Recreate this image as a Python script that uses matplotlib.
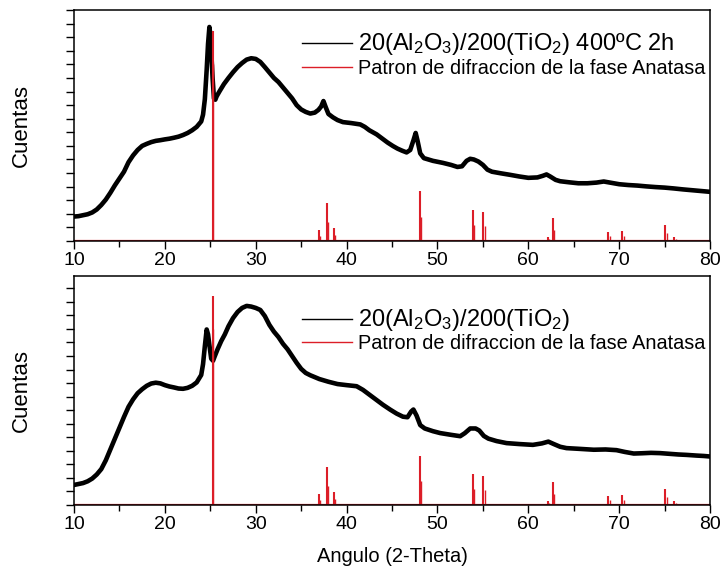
import matplotlib
matplotlib.use("Agg")
import matplotlib.pyplot as plt
from matplotlib.lines import Line2D
from matplotlib.ticker import MultipleLocator, NullFormatter

plt.rcParams.update({"font.family": ["Liberation Sans", "DejaVu Sans"],
                     "mathtext.fontset": "custom", "mathtext.rm": "Liberation Sans",
                     "mathtext.it": "Liberation Sans", "axes.linewidth": 1.1})

# ---- data (counts in arbitrary units) ----
ang_400 = [10.0, 10.5, 11.0, 11.5, 12.0, 12.5, 13.0, 13.5, 14.0, 14.5, 15.0, 15.5, 16.0, 16.5,
           17.0, 17.5, 18.0, 18.5, 19.0, 19.5, 20.0, 20.5, 21.0, 21.5, 22.0, 22.5, 23.0, 23.5,
           24.0, 24.2, 24.4, 24.6, 24.75, 24.9, 25.0, 25.1, 25.25, 25.4, 25.55, 25.7, 26.0, 26.5,
           27.0, 27.5, 28.0, 28.5, 29.0, 29.5, 30.0, 30.5, 31.0, 31.5, 32.0, 32.5, 33.0, 33.5,
           34.0, 34.5, 35.0, 35.5, 36.0, 36.5, 36.9, 37.2, 37.45, 37.7, 38.0, 38.5, 39.0, 39.6,
           40.5, 41.5, 42.0, 42.5, 43.3, 44.0, 44.5, 45.1, 45.6, 46.1, 46.6, 47.0, 47.35, 47.6,
           47.8, 48.1, 48.5, 49.0, 49.5, 50.0, 50.6, 51.5, 52.2, 52.7, 53.2, 53.6, 54.0, 54.5,
           55.0, 55.5, 56.0, 57.0, 58.0, 59.0, 60.0, 61.0, 61.6, 62.0, 62.4, 63.0, 63.5, 64.5,
           65.5, 66.5, 67.5, 68.3, 69.0, 70.0, 71.0, 72.0, 73.0, 74.0, 75.0, 76.0, 77.0, 78.0,
           79.0, 80.0]
cts_400 = [180, 183, 190, 197, 210, 232, 265, 305, 355, 410, 460, 510, 580, 630,
           670, 700, 715, 728, 737, 742, 748, 753, 760, 768, 780, 795, 815, 840,
           880, 930, 1044, 1260, 1450, 1575, 1520, 1400, 1200, 1050, 1040, 1065, 1100, 1155,
           1200, 1242, 1280, 1310, 1335, 1345, 1340, 1318, 1280, 1240, 1200, 1170, 1130, 1090,
           1050, 1000, 968, 950, 938, 945, 965, 990, 1030, 985, 935, 910, 890, 875,
           868, 858, 840, 815, 785, 750, 725, 699, 680, 665, 652, 670, 740, 795,
           740, 645, 610, 600, 590, 583, 575, 560, 545, 550, 590, 605, 600, 585,
           560, 525, 510, 498, 487, 475, 465, 468, 480, 490, 475, 450, 440, 432,
           425, 425, 430, 438, 430, 418, 412, 408, 402, 397, 393, 387, 380, 374,
           368, 362]

ang_raw = [10.0, 10.5, 11.0, 11.5, 12.0, 12.5, 13.0, 13.5, 14.0, 14.5, 15.0, 15.5, 16.0, 16.5,
           17.0, 17.5, 18.0, 18.5, 19.0, 19.5, 20.0, 20.5, 21.0, 21.5, 22.0, 22.5, 23.0, 23.5,
           24.0, 24.2, 24.4, 24.6, 24.75, 24.9, 25.1, 25.3, 25.5, 25.8, 26.2, 26.6, 27.0, 27.5,
           28.0, 28.5, 29.0, 29.5, 30.0, 30.5, 31.0, 31.5, 32.0, 32.5, 33.0, 33.5, 34.0, 34.5,
           35.0, 35.5, 36.0, 37.0, 38.0, 39.0, 40.0, 41.1, 41.8, 42.5, 43.3, 44.0, 44.8, 45.5,
           46.2, 46.7, 47.1, 47.35, 47.7, 48.1, 48.6, 49.5, 50.3, 51.5, 52.5, 53.0, 53.6, 54.2,
           54.6, 55.1, 55.6, 56.5, 57.6, 59.0, 60.5, 61.5, 62.2, 62.8, 63.5, 64.2, 65.5, 67.2,
           68.5, 69.7, 70.6, 71.6, 72.5, 73.5, 74.5, 75.5, 76.5, 77.4, 78.5, 79.3, 80.0]
cts_raw = [148, 155, 162, 175, 195, 225, 265, 330, 410, 490, 570, 650, 725, 780,
           825, 855, 880, 897, 903, 898, 885, 875, 868, 860, 858, 865, 880, 905,
           960, 1040, 1173, 1296, 1260, 1180, 1080, 1065, 1100, 1150, 1210, 1260, 1320, 1380,
           1425, 1455, 1470, 1465, 1455, 1440, 1395, 1330, 1280, 1240, 1190, 1150, 1100, 1050,
           1005, 975, 958, 930, 910, 893, 885, 877, 850, 815, 775, 740, 704, 675,
           652, 648, 690, 705, 660, 590, 565, 545, 531, 518, 508, 530, 565, 565,
           550, 510, 490, 472, 457, 450, 444, 455, 468, 450, 430, 420, 415, 408,
           410, 405, 392, 380, 382, 385, 383, 378, 373, 370, 365, 362, 358]

# anatase reference pattern (K-alpha1 and K-alpha2 lines)
ana_pos = [25.28, 36.95, 37.80, 38.57, 48.05, 53.89, 55.06, 62.12, 62.69, 68.76, 70.31, 74.03, 75.03, 76.02]
ana_int = [1545, 81, 279, 94, 365, 230, 217, 32, 168, 69, 77, 8, 119, 32]
ana2_pos = [25.35, 37.05, 37.90, 38.67, 48.17, 54.04, 55.22, 62.30, 62.87, 68.96, 70.52, 75.27, 76.27]
ana2_int = [1300, 40, 140, 47, 180, 115, 108, 16, 84, 35, 38, 60, 16]

labels_top = [r"20(Al$\mathregular{_2}$O$\mathregular{_3}$)/200(TiO$\mathregular{_2}$) 400ºC 2h",
              "Patron de difraccion de la fase Anatasa"]
labels_bot = [r"20(Al$\mathregular{_2}$O$\mathregular{_3}$)/200(TiO$\mathregular{_2}$)",
              "Patron de difraccion de la fase Anatasa"]

RED = "#dc1e28"
fig = plt.figure(figsize=(7.22, 5.78), dpi=100)
ax1 = fig.add_axes([0.1025, 0.583, 0.881, 0.3997])
ax2 = fig.add_axes([0.1025, 0.1263, 0.881, 0.396])

for ax, x, y, labs, ytop, anc in [(ax1, ang_400, cts_400, labels_top, 1700, 0.952),
                                  (ax2, ang_raw, cts_raw, labels_bot, 1690, 0.91)]:
    ax.plot(x, y, color="black", lw=3.3, solid_joinstyle="round")
    ax.axhline(0, color=RED, lw=1.6)
    ax.vlines(ana_pos, 0, ana_int, color=RED, lw=1.5)
    ax.vlines(ana2_pos, 0, ana2_int, color=RED, lw=1.0)
    ax.set_xlim(10, 80); ax.set_ylim(0, ytop)
    ax.xaxis.set_major_locator(MultipleLocator(10)); ax.xaxis.set_minor_locator(MultipleLocator(5))
    ax.yaxis.set_major_locator(MultipleLocator(100)); ax.yaxis.set_major_formatter(NullFormatter())
    ax.tick_params(axis="x", which="major", direction="out", length=6, width=1, labelsize=14, pad=2)
    ax.tick_params(axis="x", which="minor", direction="out", length=4, width=1)
    ax.tick_params(axis="y", which="major", direction="out", length=5.5, width=1)
    ax.set_ylabel("Cuentas", fontsize=16)
    ax.yaxis.set_label_coords(-0.066, 0.5)
    handles = [Line2D([], [], color="black", lw=1.0), Line2D([], [], color=RED, lw=1.0)]
    leg = ax.legend(handles, labs, loc="upper right", frameon=False,
                    prop={"family": "Liberation Sans", "size": 14.3},
                    handlelength=2.5, handletextpad=0.3, labelspacing=0.08,
                    borderaxespad=0.1, bbox_to_anchor=(1.008, anc))
    leg.get_texts()[0].set_fontsize(17)

ax2.set_xlabel("Angulo (2-Theta)", fontsize=14.5, labelpad=10)

fig.savefig("out.png", dpi=100)
